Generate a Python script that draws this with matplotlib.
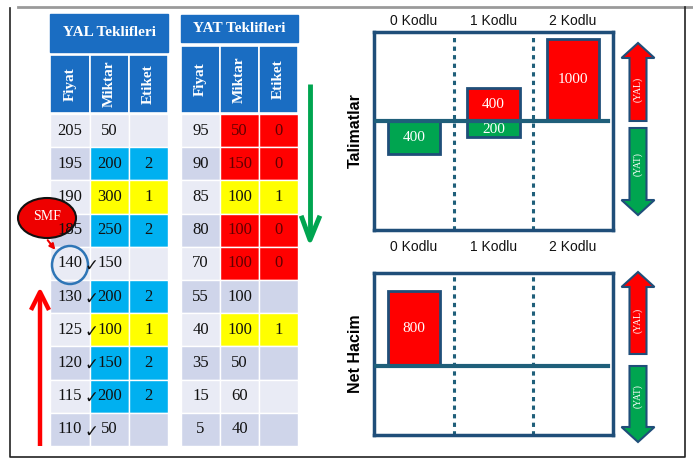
import numpy as np
import matplotlib
matplotlib.use('Agg')
import matplotlib.pyplot as plt
from matplotlib.patches import Rectangle, Ellipse, Polygon

# ---------------- data ----------------
yal_fiyat = [205, 195, 190, 185, 140, 130, 125, 120, 115, 110]
yal_miktar = [50, 200, 300, 250, 150, 200, 100, 150, 200, 50]
yal_etiket = ['', '2', '1', '2', '', '2', '1', '2', '2', '']
yal_check = [False, False, False, False, True, True, True, True, True, True]

yat_fiyat = [95, 90, 85, 80, 70, 55, 40, 35, 15, 5]
yat_miktar = [50, 150, 100, 100, 100, 100, 100, 50, 60, 40]
yat_etiket = ['0', '0', '1', '0', '0', '', '1', '', '', '']

kodlar = ['0 Kodlu', '1 Kodlu', '2 Kodlu']
talimat_yal = [0, 400, 1000]
talimat_yat = [400, 200, 0]
net_yal = [800, 0, 0]
net_yat = [0, 0, 0]

col_names = ['Fiyat', 'Miktar', 'Etiket']

# ---------------- styles ----------------
SERIF = ['Liberation Serif', 'DejaVu Sans']
SANS = 'Liberation Sans'
BLUE = '#1a6dc2'
LIGHT = '#e9ebf5'
DARK = '#cfd5ea'
ETIKET_COLORS = {'0': '#ff0000', '1': '#ffff00', '2': '#00b0f0'}
NAVY = '#1f4e79'
TEAL = '#1f5f7a'
RED = '#ff0000'
GREEN = '#00a550'

W, H = 693, 470
fig = plt.figure(figsize=(W / 100, H / 100), dpi=100)
ax = fig.add_axes([0, 0, 1, 1])
ax.set_xlim(0, W)
ax.set_ylim(H, 0)
ax.axis('off')

# outer frame
ax.plot([18, W], [7, 7], color='#9a9a9a', lw=2)
ax.plot([10, 10, 685, 685], [8, 457, 457, 7], color='#222222', lw=1.2)

row_top = 114
row_h = 33.2


def draw_table(x_edges, head_y, sub_y, title, fiyat, miktar, etiket, check=None):
    x0, x1 = x_edges[0], x_edges[-1]
    ax.add_patch(Rectangle((x0, head_y[0]), x1 - x0, head_y[1] - head_y[0], color=BLUE))
    ax.text((x0 + x1) / 2, (head_y[0] + head_y[1]) / 2, title, color='white',
            fontsize=11, fontweight='bold', family=SERIF, ha='center', va='center')
    for j, name in enumerate(col_names):
        xa, xb = x_edges[j], x_edges[j + 1]
        ax.add_patch(Rectangle((xa, sub_y[0]), xb - xa, sub_y[1] - sub_y[0],
                               facecolor=BLUE, edgecolor='white', lw=1.2))
        ax.text((xa + xb) / 2, (sub_y[0] + sub_y[1]) / 2, name, color='white', rotation=90,
                fontsize=11, fontweight='bold', family=SERIF, ha='center', va='center')
    for i in range(len(fiyat)):
        y = row_top + i * row_h
        stripe = LIGHT if i % 2 == 0 else DARK
        cell_color = ETIKET_COLORS.get(etiket[i], stripe)
        colors = [stripe, cell_color, cell_color]
        txt_color = '#600000' if etiket[i] == '0' else '#111111'
        values = [str(fiyat[i]), str(miktar[i]), etiket[i]]
        for j in range(3):
            xa, xb = x_edges[j], x_edges[j + 1]
            ax.add_patch(Rectangle((xa, y), xb - xa, row_h, facecolor=colors[j],
                                   edgecolor='white', lw=1))
            c = '#111111' if j == 0 else txt_color
            ax.text((xa + xb) / 2, y + row_h / 2, values[j], color=c, fontsize=12,
                    family=SERIF, ha='center', va='center')
        if check is not None and check[i]:
            ax.text(x_edges[1] + 1, y + row_h / 2 + 2, '\u2713', fontsize=12,
                    family=['DejaVu Sans'], ha='center', va='center', color='#111111')


draw_table([50, 90, 129, 168], (14, 52), (55, 113), 'YAL Teklifleri',
           yal_fiyat, yal_miktar, yal_etiket, yal_check)
draw_table([181, 220, 259, 298], (15, 42), (46, 113), 'YAT Teklifleri',
           yat_fiyat, yat_miktar, yat_etiket)

# green down arrow next to YAT table
ax.plot([310, 310], [84, 238], color=GREEN, lw=3.5, solid_capstyle='butt')
ax.plot([302, 310, 319], [218, 240, 218], color=GREEN, lw=3.5)

# red up arrow next to YAL table
ax.plot([40, 40], [446, 294], color=RED, lw=3.2, solid_capstyle='butt')
ax.plot([32, 40, 48], [308, 292, 308], color=RED, lw=3.2)

# SMF marker
ax.add_patch(Ellipse((70, 265), 36, 38, facecolor='none', edgecolor='#2e75b6', lw=1.8))
ax.add_patch(Ellipse((47, 218), 58, 40, facecolor='#ee0000', edgecolor='#111111', lw=1.5))
ax.text(47, 217, 'SMF', color='white', fontsize=10, family=SERIF, ha='center', va='center')
ax.annotate('', xy=(57, 252), xytext=(46, 238),
            arrowprops=dict(arrowstyle='-|>', color='#ee0000', lw=1.5, mutation_scale=8))


def block_arrow(xc, y_start, y_tip, color, label):
    d = 1 if y_tip > y_start else -1
    head = 15
    sw, hw = 8.5, 16.5
    yb = y_tip - d * head
    pts = [(xc - sw, y_start), (xc + sw, y_start), (xc + sw, yb), (xc + hw, yb),
           (xc, y_tip), (xc - hw, yb), (xc - sw, yb)]
    ax.add_patch(Polygon(pts, closed=True, facecolor=color, edgecolor=NAVY, lw=1.5))
    ax.text(xc, (y_start + yb) / 2, label, color='white', rotation=90, fontsize=7,
            family=SERIF, ha='center', va='center')


def draw_chart(box, yal, yat, ylim, title, tick_pad):
    left, top, right, bottom = box
    cax = fig.add_axes([left / W, 1 - bottom / H, (right - left) / W, (bottom - top) / H])
    cax.set_xlim(0, 3)
    cax.set_ylim(*ylim)
    cax.patch.set_alpha(0)
    x = np.arange(len(kodlar)) + 0.5
    for i in range(len(kodlar)):
        if yal[i] > 0:
            cax.bar(x[i], yal[i], width=0.66, color=RED, edgecolor=NAVY, lw=2, zorder=2)
            cax.text(x[i], yal[i] / 2, str(yal[i]), color='white', fontsize=11,
                     family=SERIF, ha='center', va='center', zorder=4)
        if yat[i] > 0:
            cax.bar(x[i], -yat[i], width=0.66, color=GREEN, edgecolor=NAVY, lw=2, zorder=2)
            cax.text(x[i], -yat[i] / 2, str(yat[i]), color='white', fontsize=11,
                     family=SERIF, ha='center', va='center', zorder=4)
    cax.axhline(0, xmin=0, xmax=0.98, color=TEAL, lw=3, zorder=3)
    for d in [1, 2]:
        cax.axvline(d, color=TEAL, lw=2.2, linestyle=(0, (1.4, 1.4)), zorder=1)
    for s in cax.spines.values():
        s.set_color(NAVY)
        s.set_linewidth(2.5)
    cax.xaxis.tick_top()
    cax.set_xticks(x)
    cax.set_xticklabels(kodlar, fontsize=10, family=SANS, color='#111111')
    cax.tick_params(axis='x', length=0, pad=tick_pad)
    cax.set_yticks([])
    cax.set_ylabel(title, fontsize=11.5, fontweight='bold', family=SANS, labelpad=8)
    # zero line pixel position for side arrows
    frac = (0 - ylim[0]) / (ylim[1] - ylim[0])
    return bottom - frac * (bottom - top)


z1 = draw_chart((374, 32, 613, 230), talimat_yal, talimat_yat, (-1329, 1085), 'Talimatlar', 3)
z2 = draw_chart((374, 273, 613, 435), net_yal, net_yat, (-736, 992), 'Net Hacim', 14)

block_arrow(638, z1, 43, RED, '(YAL)')
block_arrow(638, z1 + 7, 215, GREEN, '(YAT)')
block_arrow(638, z2 - 12, 272, RED, '(YAL)')
block_arrow(638, z2, 442, GREEN, '(YAT)')

fig.savefig('out.png', dpi=100)
